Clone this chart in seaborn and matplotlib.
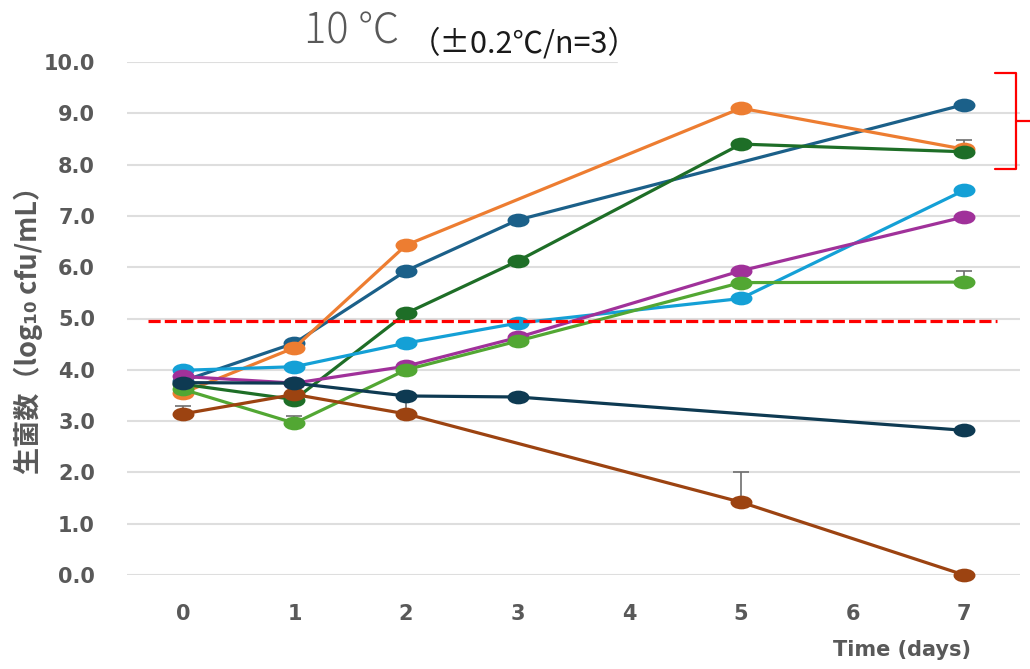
import numpy as np
import pandas as pd
import seaborn as sns
import matplotlib.pyplot as plt
from matplotlib.path import Path
from matplotlib.patches import Rectangle

days = [0, 1, 2, 3, 5, 7]

dark_blue   = [3.78, 4.52, 5.93, 6.92, np.nan, 9.17]
orange      = [3.55, 4.43, 6.43, np.nan, 9.10, 8.30]
dark_green  = [3.72, 3.42, 5.10, 6.12, 8.40, 8.25]
light_blue  = [3.99, 4.06, 4.52, 4.91, 5.39, 7.50]
purple      = [3.87, 3.74, 4.07, 4.63, 5.93, 6.98]
light_green = [3.62, 2.96, 4.00, 4.56, 5.70, 5.71]
brown       = [3.14, 3.52, 3.14, np.nan, 1.42, 0.00]
navy        = [3.75, 3.74, 3.49, 3.47, np.nan, 2.82]

# upper error bars (std), NaN = none drawn
err_orange      = [np.nan, np.nan, np.nan, np.nan, np.nan, 0.18]
err_light_green = [np.nan, 0.14, np.nan, np.nan, np.nan, 0.22]
err_brown       = [0.16, np.nan, 0.30, np.nan, 0.59, np.nan]
no_err          = [np.nan] * 6

limit_line = 4.96

#%% series in drawing order
series = [
    (dark_blue,   no_err,          '#1B6089'),
    (orange,      err_orange,      '#ED7D31'),
    (dark_green,  no_err,          '#1E6E27'),
    (light_blue,  no_err,          '#14A0D6'),
    (purple,      no_err,          '#A0319A'),
    (light_green, err_light_green, '#52A733'),
    (brown,       err_brown,       '#9C4311'),
    (navy,        no_err,          '#0E3A52'),
]

# flattened ellipse marker like the excel one
circ = Path.unit_circle()
ellipse = Path(circ.vertices * [1.6, 1.0], circ.codes)

sns.set_theme(style='white')
plt.rcParams['font.family'] = ['DejaVu Sans']
grey = '#595959'
cjk = ['Noto Sans CJK JP', 'DejaVu Sans']

fig = plt.figure(figsize=(10.3, 6.69), dpi=100)
ax = fig.add_axes([127/1030, 94/669, 893/1030, 513/669])

z = 2
for vals, errs, col in series:
    d = pd.DataFrame({'day': days, 'logcfu': vals, 'err': errs}).dropna(subset=['logcfu'])
    e = d.dropna(subset=['err'])
    if len(e):
        ax.errorbar(e['day'], e['logcfu'], yerr=[np.zeros(len(e)), e['err']], fmt='none',
                    ecolor='#6E6E6E', elinewidth=1.2, capsize=6, capthick=1.2, zorder=z)
    sns.lineplot(data=d, x='day', y='logcfu', color=col, lw=2.3, marker=ellipse,
                 markersize=15.8, markeredgewidth=0, errorbar=None, ax=ax,
                 zorder=z + 0.5, clip_on=False)
    z += 1

# red dashed reference line
ax.hlines(limit_line, -0.31, 7.29, colors='#FF0000', linestyles=(0, (3.8, 1.3)), lw=2.3, zorder=20)

# red bracket on the right
ax.plot([7.28, 7.46, 7.46, 7.28], [9.79, 9.79, 7.91, 7.91], color='#FF0000', lw=1.6, clip_on=False, zorder=20)
ax.plot([7.46, 7.6], [8.85, 8.85], color='#FF0000', lw=1.6, clip_on=False, zorder=20)

ax.set_xlim(-0.5, 7.5)
ax.set_ylim(0, 10)
ax.set_xticks(range(8))
ax.set_yticks(np.arange(0, 11, 1))
ax.set_yticklabels(['%.1f' % v for v in np.arange(0, 11, 1)])
ax.set_xlabel('')
ax.set_ylabel('')
ax.yaxis.grid(True, color='#DEDEDE', lw=1.5)
ax.xaxis.grid(False)
ax.set_axisbelow(True)
for s in ax.spines.values():
    s.set_visible(False)
ax.tick_params(axis='y', length=0, pad=23, labelsize=15, labelcolor=grey)
ax.tick_params(axis='x', length=0, pad=21, labelsize=15, labelcolor=grey)
for lab in ax.get_xticklabels() + ax.get_yticklabels():
    lab.set_fontweight('bold')

# white box hiding the top gridline under the title box
fig.add_artist(Rectangle((618/1030, 1 - 68/669), 412/1030, 12/669, color='white',
                         transform=fig.transFigure, zorder=5))

fig.text(304/1030, 1 - 43/669, '10 ℃', fontsize=30, color=grey, family=cjk,
         weight='light', ha='left', va='baseline')
fig.text(410/1030, 1 - 53/669, '（±0.2℃/n=3）', fontsize=22, color='#1A1A1A', family=cjk,
         ha='left', va='baseline')
fig.text(28/1030, 1 - 323/669, '生菌数（log₁₀ cfu/mL）', rotation=90, ha='center', va='center',
         fontsize=19.5, weight='bold', color=grey, family=cjk)
fig.text(902/1030, 1 - 650/669, 'Time (days)', ha='center', va='center',
         fontsize=15, weight='bold', color=grey)

fig.savefig('out.png', dpi=100)
